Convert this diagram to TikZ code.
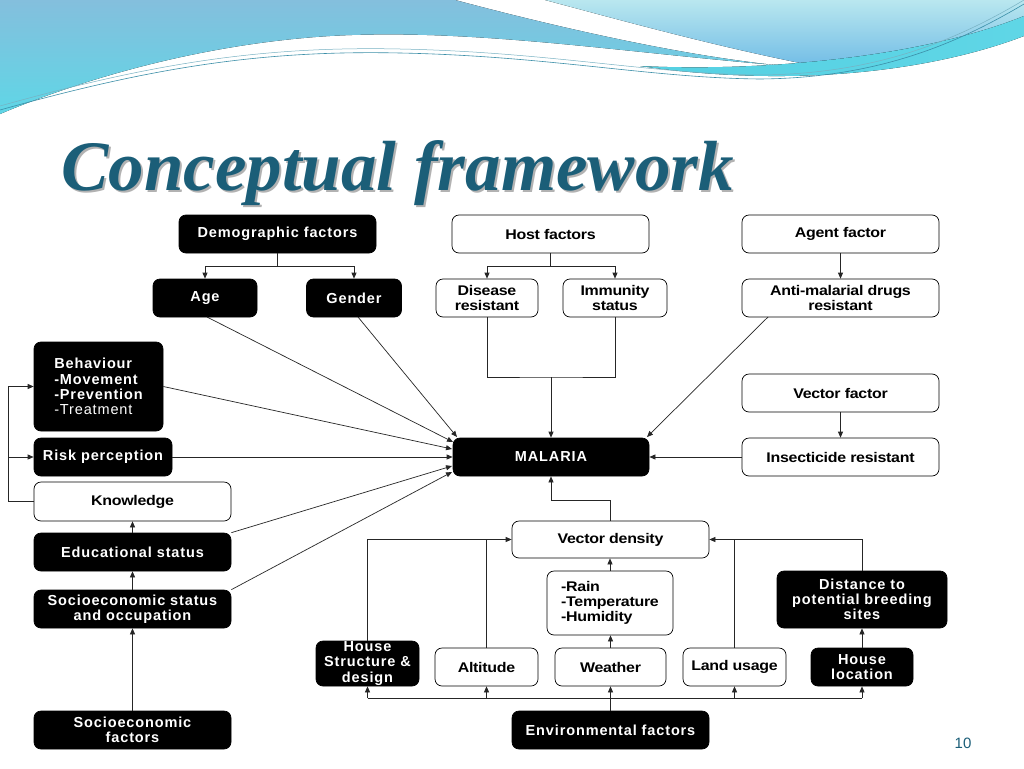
\documentclass[tikz,border=0pt]{standalone}
\usepackage{fontspec}
\setmainfont{Liberation Sans}
\newfontfamily\titlefont{Liberation Serif}
\newfontfamily\wfont[FakeStretch=1.14, LetterSpace=-2]{Liberation Sans}
\newfontfamily\bfont[LetterSpace=6]{Liberation Sans}
\usetikzlibrary{arrows.meta,calc}
\definecolor{titlec}{HTML}{1B5E78}
\definecolor{wavea}{HTML}{84BFDD}
\definecolor{waveb}{HTML}{5FD6E6}
\definecolor{wavec}{HTML}{B9E7EF}
\definecolor{waved}{HTML}{55D0E2}
\definecolor{wavee}{HTML}{74BEE6}
\definecolor{linec}{HTML}{3C8FA8}
\begin{document}
\begin{tikzpicture}[x=1pt,y=-1pt,
  base/.style={rounded corners=7pt, draw=black, line width=0.7pt, inner sep=0pt, align=center},
  bbox/.style={base, fill=black, text=white, font=\bfont\fontsize{14.5}{15.3}\selectfont\bfseries},
  wbox/.style={base, fill=white, text=black, font=\wfont\fontsize{14}{15}\selectfont\bfseries},
  arr/.style={-{Triangle[length=6pt,width=5pt]}},
  ln/.style={line width=0.7pt, draw=black!85}]
\useasboundingbox (0,0) rectangle (1024,768);
\fill[white] (0,0) rectangle (1024,768);
% background waves
\fill[top color=wavea, bottom color=waveb] (0,0) -- (455,0) .. controls (560,28) and (680,55) .. (775,65) .. controls (620,52) and (470,28) .. (330,36) .. controls (200,44) and (80,80) .. (0,114) -- cycle;
\fill[top color=wavec, bottom color=wavee] (545,0) -- (1024,0) -- (1024,18) .. controls (960,45) and (880,62) .. (805,64) .. controls (710,45) and (620,20) .. (545,0) -- cycle;
\fill[left color=waved, right color=waveb] (640,66) .. controls (760,72) and (920,58) .. (1024,16) -- (1024,36) .. controls (930,72) and (790,88) .. (640,66) -- cycle;
\draw[linec, line width=0.6pt] (0,110) .. controls (150,68) and (260,50) .. (400,53) .. controls (550,56) and (650,78) .. (760,79) .. controls (880,78) and (960,42) .. (1024,4);
\draw[linec!70, line width=0.5pt] (0,106) .. controls (150,64) and (260,46) .. (400,49) .. controls (550,52) and (650,74) .. (760,75) .. controls (880,74) and (960,38) .. (1024,0);
% title
\node[anchor=base west, inner sep=0pt, text=black!30] (titleshadow) at (63,192) {\titlefont\fontsize{71}{80}\selectfont\bfseries\itshape Conceptual framework};
\node[anchor=base west, inner sep=0pt, text=titlec] (title) at (61,190) {\titlefont\fontsize{71}{80}\selectfont\bfseries\itshape Conceptual framework};
% nodes
\node[bbox, minimum width=197, minimum height=38] (demo) at (277.5,234) {Demographic factors};
\node[bbox, minimum width=104, minimum height=38] (age) at (205,298) {Age};
\node[bbox, minimum width=95, minimum height=38] (gender) at (354,298) {Gender};
\node[wbox, minimum width=197, minimum height=38] (host) at (550.5,234) {Host factors};
\node[wbox, minimum width=102, minimum height=38] (dis) at (487,298) {Disease\\resistant};
\node[wbox, minimum width=104, minimum height=38] (imm) at (615,298) {Immunity\\status};
\node[wbox, minimum width=197, minimum height=38] (agent) at (840.5,234) {Agent factor};
\node[wbox, minimum width=197, minimum height=38] (anti) at (840.5,298) {Anti-malarial drugs\\resistant};
\node[wbox, minimum width=197, minimum height=38] (vfac) at (840.5,393) {Vector factor};
\node[wbox, minimum width=197, minimum height=38] (insect) at (840.5,457) {Insecticide resistant};
\node[bbox, minimum width=196, minimum height=38] (mal) at (551,457) {MALARIA};
\node[bbox, minimum width=129, minimum height=89, align=left] (beh) at (98.5,386.5) {Behaviour\\-Movement\\-Prevention\\{\mdseries -Treatment}};
\node[bbox, minimum width=138, minimum height=38] (risk) at (103,457) {Risk perception};
\node[wbox, minimum width=197, minimum height=39] (know) at (132.5,501.5) {Knowledge};
\node[bbox, minimum width=197, minimum height=38] (edu) at (132.5,552) {Educational status};
\node[bbox, minimum width=197, minimum height=38] (ses) at (132.5,609) {Socioeconomic status\\and occupation};
\node[bbox, minimum width=197, minimum height=38] (sef) at (132.5,730) {Socioeconomic\\factors};
\node[wbox, minimum width=197, minimum height=37] (vd) at (610.5,539.5) {Vector density};
\node[wbox, minimum width=126, minimum height=64, align=left] (rain) at (610,603) {-Rain\\-Temperature\\-Humidity};
\node[wbox, minimum width=111, minimum height=38] (weather) at (610.5,667) {Weather};
\node[wbox, minimum width=103, minimum height=38] (alt) at (486.5,667) {Altitude};
\node[wbox, minimum width=103, minimum height=38] (land) at (734.5,667) {Land usage};
\node[bbox, minimum width=103, minimum height=45] (hsd) at (367.5,663.5) {House\\Structure \&\\design};
\node[bbox, minimum width=102, minimum height=38] (hloc) at (862,667) {House\\location};
\node[bbox, minimum width=170, minimum height=57] (dist) at (862,599.5) {Distance to\\potential breeding\\sites};
\node[bbox, minimum width=197, minimum height=38] (env) at (610.5,730) {Environmental factors};
\node[text=titlec, font=\fontsize{15}{17}\selectfont] (pnum) at (963,743) {10};
% connectors
\coordinate (dj) at (277.5,266);
\draw[ln] (demo.south) -- (dj);
\draw[ln,arr] (dj) -| (age.north);
\draw[ln,arr] (dj) -| (gender.north);
\coordinate (hj) at (550.5,266);
\draw[ln] (host.south) -- (hj);
\draw[ln,arr] (hj) -| (dis.north);
\draw[ln,arr] (hj) -| (imm.north);
\coordinate (hk) at (551,377);
\draw[ln] (dis.south) |- (hk) -| (imm.south);
\draw[ln,arr] (hk) -- (mal.north);
\draw[ln,arr] (agent.south) -- (anti.north);
\draw[ln,arr] (vfac.south) -- (insect.north);
\draw[ln,arr] (insect.west) -- (mal.east);
\coordinate (antis) at (768,317);
\coordinate (mne) at (647,437);
\draw[ln,arr] (antis) -- (mne);
\coordinate (m1) at (453,442);
\coordinate (m2) at (457,437);
\coordinate (m3) at (452,449);
\coordinate (m5) at (452,466);
\coordinate (m6) at (452,472);
\coordinate (ages) at (207,317);
\coordinate (gens) at (358,317);
\draw[ln,arr] (ages) -- (m1);
\draw[ln,arr] (gens) -- (m2);
\draw[ln,arr] (beh.east) -- (m3);
\draw[ln,arr] (risk.east) -- (mal.west);
\draw[ln,arr] (edu.north east) -- (m5);
\draw[ln,arr] (ses.north east) -- (m6);
\coordinate (kl) at (8,501.5);
\draw[ln] (know.west) -- (kl);
\draw[ln,arr] (kl) |- (beh.west);
\draw[ln,arr] (kl |- risk.west) -- (risk.west);
\draw[ln,arr] (edu.north) -- (know.south);
\draw[ln,arr] (ses.north) -- (edu.south);
\draw[ln,arr] (sef.north) -- (ses.south);
\coordinate (vj) at (610.5,500);
\draw[ln,arr] (vd.north) -- (vj) -| (mal.south);
\draw[ln,arr] (rain.north) -- (rain.north |- vd.south);
\draw[ln,arr] (weather.north) -- (weather.north |- rain.south);
\draw[ln,arr] (env.north) -- (weather.south);
\coordinate (bl) at (367.5,698);
\coordinate (br) at (862,698);
\draw[ln] (bl) -- (br);
\draw[ln,arr] (bl) -- (hsd.south);
\draw[ln,arr] (alt.south |- bl) -- (alt.south);
\draw[ln,arr] (land.south |- bl) -- (land.south);
\draw[ln,arr] (br) -- (hloc.south);
\draw[ln,arr] (hsd.north) |- (vd.west);
\draw[ln] (alt.north) -- (alt.north |- vd.west);
\draw[ln,arr] (dist.north) |- (vd.east);
\draw[ln] (land.north) -- (land.north |- vd.east);
\draw[ln,arr] (hloc.north) -- (dist.south);
\end{tikzpicture}
\end{document}
